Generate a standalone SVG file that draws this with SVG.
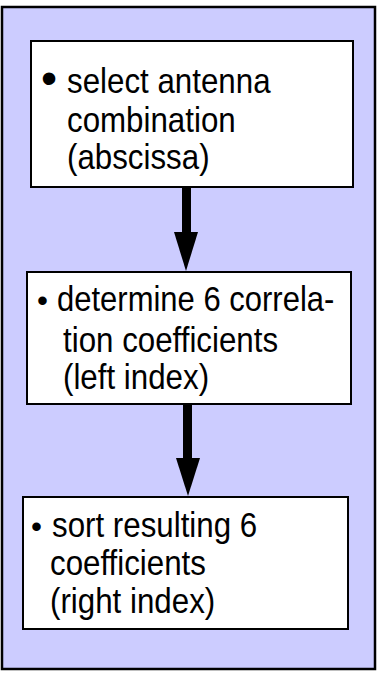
<svg xmlns="http://www.w3.org/2000/svg" width="383" height="676" viewBox="0 0 383 676">
<style>
.box{fill:#ffffff;stroke:#000000;stroke-width:2}
.t{font-family:"Liberation Sans",Arial,sans-serif;font-size:31.3px;fill:#000000}
.conn{fill:#000000;stroke:none}
</style>
<rect x="2" y="7" width="373" height="662" fill="#ccccff" stroke="#000000" stroke-width="2.5"/>
<g id="connectors">
<rect class="conn" x="182" y="187" width="9" height="46"/>
<polygon class="conn" points="174,232 198,232 186,271"/>
<rect class="conn" x="183" y="404" width="9" height="55"/>
<polygon class="conn" points="176,458 200,458 188,496"/>
</g>
<g id="node1">
<rect class="box" x="31" y="41" width="322" height="146"/>
<text class="t" x="41" y="94" style="font-size:46px">•</text>
<text class="t" transform="translate(67,93) scale(1,1.12)">select antenna</text>
<text class="t" transform="translate(67,132) scale(1,1.12)">combination</text>
<text class="t" transform="translate(67,169) scale(1,1.12)">(abscissa)</text>
</g>
<g id="node2">
<rect class="box" x="27" y="272" width="324" height="132"/>
<text class="t" x="37" y="311">•</text>
<text class="t" transform="translate(57,311) scale(1,1.12)" style="font-size:31px">determine 6 correla-</text>
<text class="t" transform="translate(63,352) scale(1,1.12)">tion coefficients</text>
<text class="t" transform="translate(63,389) scale(1,1.12)">(left index)</text>
</g>
<g id="node3">
<rect class="box" x="23" y="497" width="325" height="132"/>
<text class="t" x="31" y="537">•</text>
<text class="t" transform="translate(52,537) scale(1,1.12)">sort resulting 6</text>
<text class="t" transform="translate(50,575) scale(1,1.12)">coefficients</text>
<text class="t" transform="translate(50,613) scale(1,1.12)">(right index)</text>
</g>
</svg>
